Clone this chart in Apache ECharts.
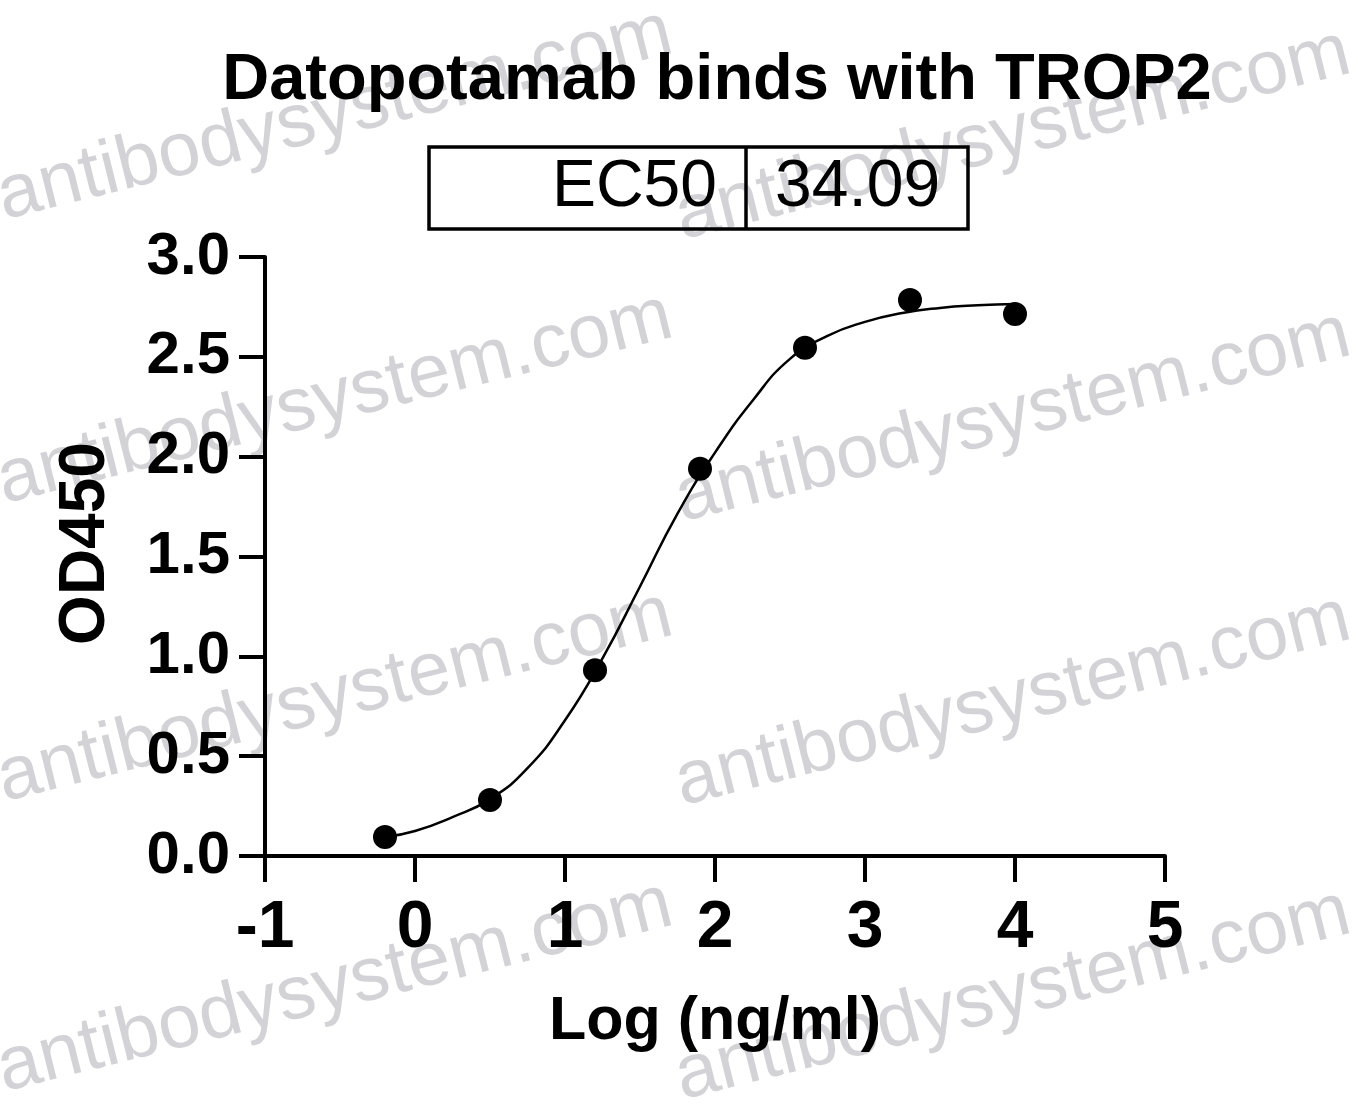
<!DOCTYPE html>
<html>
<head>
<meta charset="utf-8">
<script src="https://cdn.jsdelivr.net/npm/echarts@6/dist/echarts.min.js"></script>
<style>
html,body{margin:0;padding:0;background:#fff;}
#chart{width:1358px;height:1104px;}
</style>
</head>
<body>
<div id="chart"></div>
<script>
// ---- data ----
const titleText = "Datopotamab binds with TROP2";
const ec50Label = "EC50";
const ec50Value = "34.09";
const xAxisName = "Log (ng/ml)";
const yAxisName = "OD450";
const watermarkText = "antibodysystem.com";

// measured points (log concentration, OD450)
const pointX = [-0.2, 0.5, 1.2, 1.9, 2.6, 3.3, 4.0];
const pointY = [0.095, 0.28, 0.93, 1.94, 2.545, 2.785, 2.715];

// fitted curve
const curveX = [-0.2, 0.0, 0.25, 0.5, 0.75, 1.0, 1.25, 1.5, 1.75, 2.0, 2.25, 2.5, 2.75, 3.0, 3.25, 3.5, 3.75, 4.0];
const curveY = [0.095, 0.125, 0.195, 0.285, 0.44, 0.68, 0.99, 1.35, 1.715, 2.02, 2.28, 2.49, 2.605, 2.675, 2.72, 2.745, 2.758, 2.765];

// axis ranges / ticks
const xMin = -1, xMax = 5, xStep = 1;
const yMin = 0, yMax = 3, yStep = 0.5;

const FONT = "'Liberation Sans', Arial, sans-serif";

const chart = echarts.init(document.getElementById('chart'), null, {renderer: 'canvas'});

const points = pointX.map((x, i) => [x, pointY[i]]);
const curve = curveX.map((x, i) => [x, curveY[i]]);

// watermark positions (start of each repeated text)
const wmStarts = [[8, 236], [8, 520], [8, 818], [8, 1108], [686, 256], [686, 538], [686, 822], [686, 1116]];
const watermarks = wmStarts.map(p => ({
  type: 'text',
  x: p[0], y: p[1],
  rotation: 14 * Math.PI / 180,
  z: -10,
  silent: true,
  style: {
    text: watermarkText,
    font: '76px ' + FONT,
    fill: '#d3d3d7',
    textAlign: 'left',
    textVerticalAlign: 'bottom'
  }
}));

const option = {
  backgroundColor: '#ffffff',
  animation: false,
  title: {
    text: titleText,
    left: 712,
    top: 44,
    textAlign: 'center',
    z: 20,
    textStyle: {fontFamily: FONT, fontWeight: 'bold', fontSize: 65, color: '#000'}
  },
  grid: {left: 265, right: 193, top: 257, bottom: 248, containLabel: false},
  xAxis: {
    type: 'value',
    min: xMin, max: xMax, interval: xStep,
    name: xAxisName,
    nameLocation: 'middle',
    nameGap: 136,
    z: 10,
    nameTextStyle: {fontFamily: FONT, fontWeight: 'bold', fontSize: 61, color: '#000'},
    axisLine: {show: true, onZero: false, lineStyle: {color: '#000', width: 4}},
    axisTick: {show: true, inside: false, length: 26, lineStyle: {color: '#000', width: 4}},
    axisLabel: {margin: 40, fontFamily: FONT, fontWeight: 'bold', fontSize: 66, color: '#000'},
    splitLine: {show: false}
  },
  yAxis: {
    type: 'value',
    min: yMin, max: yMax, interval: yStep,
    name: yAxisName,
    nameLocation: 'middle',
    nameGap: 147,
    z: 10,
    nameTextStyle: {fontFamily: FONT, fontWeight: 'bold', fontSize: 64, color: '#000', padding: [0, 0, 0, 26]},
    axisLine: {show: true, onZero: false, lineStyle: {color: '#000', width: 4}},
    axisTick: {show: true, inside: false, length: 26, lineStyle: {color: '#000', width: 4}},
    axisLabel: {margin: 35, fontFamily: FONT, fontWeight: 'bold', fontSize: 60, color: '#000',
      formatter: v => v.toFixed(1)},
    splitLine: {show: false}
  },
  series: [
    {
      type: 'line',
      data: curve,
      smooth: 0.5,
      showSymbol: false,
      symbol: 'none',
      lineStyle: {color: '#000', width: 2.5},
      z: 2
    },
    {
      type: 'scatter',
      data: points,
      symbol: 'circle',
      symbolSize: 24,
      itemStyle: {color: '#000', opacity: 1},
      z: 3
    }
  ],
  graphic: [
    {
      type: 'rect',
      shape: {x: 429, y: 147, width: 539, height: 82},
      style: {fill: 'none', stroke: '#000', lineWidth: 3.5},
      z: 10
    },
    {
      type: 'line',
      shape: {x1: 746, y1: 147, x2: 746, y2: 229},
      style: {stroke: '#000', lineWidth: 3.5},
      z: 10
    },
    {
      type: 'text',
      x: 717, y: 188,
      z: 10,
      style: {text: ec50Label, font: '66px ' + FONT, fill: '#000', textAlign: 'right', textVerticalAlign: 'middle'}
    },
    {
      type: 'text',
      x: 775, y: 188,
      z: 10,
      style: {text: ec50Value, font: '66px ' + FONT, fill: '#000', textAlign: 'left', textVerticalAlign: 'middle'}
    }
  ].concat(watermarks)
};

chart.setOption(option);
</script>
</body>
</html>
